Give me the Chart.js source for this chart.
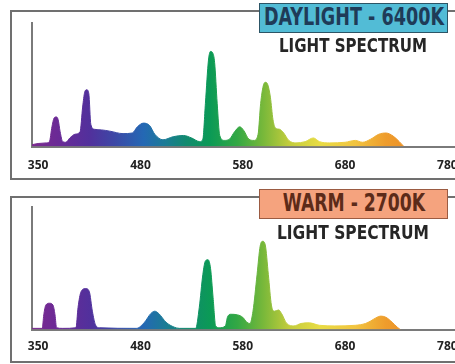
<!DOCTYPE html>
<html>
<head>
<meta charset="utf-8">
<script src="https://cdn.jsdelivr.net/npm/chart.js@4.4.1/dist/chart.umd.min.js"></script>
<style>
    html, body { margin: 0; padding: 0; background: #fff; overflow: hidden; }
    body { width: 455px; height: 364px; position: relative; }
    .frame { position: absolute; left: 10px; width: 470px; border: 2px solid #707070; box-sizing: border-box; }
    #frame-day { top: 10px; height: 170px; }
    #frame-warm { top: 196px; height: 167px; }
    canvas { position: absolute; left: 0; }
    #chart-day { top: 0; }
    #chart-warm { top: 182px; }
    .badge { position: absolute; left: 259px; width: 189px; height: 30px; box-sizing: border-box; border: 1.5px solid;
             font-family: 'DejaVu Sans Condensed', 'DejaVu Sans', sans-serif; font-weight: bold;
             font-size: 24px; line-height: 27px; white-space: nowrap; }
    #badge-day { top: 3px; background: #52bcd6; border-color: #2c5566; color: #1f3b58; }
    #badge-warm { top: 189px; background: #f5a37e; border-color: #9b5b42; color: #5c2b19; }
    .sub { position: absolute; left: 253px; width: 200px; height: 20px; white-space: nowrap;
           font-family: 'DejaVu Sans Condensed', 'DejaVu Sans', sans-serif; font-weight: bold;
           font-size: 19px; line-height: 20px; color: #262626; }
    #sub-day { top: 35px; }
    #sub-warm { top: 222px; }
    .fit { position: absolute; left: 50%; top: 0; transform-origin: 50% 50%; }
</style>
</head>
<body>
<div class="frame" id="frame-day"></div>
<div class="frame" id="frame-warm"></div>
<canvas id="chart-day" width="475" height="190"></canvas>
<canvas id="chart-warm" width="475" height="186"></canvas>
<div class="badge" id="badge-day"><span class="fit" data-w="180">DAYLIGHT - 6400K</span></div>
<div class="sub" id="sub-day"><span class="fit" data-w="148">LIGHT SPECTRUM</span></div>
<div class="badge" id="badge-warm"><span class="fit" data-w="142">WARM - 2700K</span></div>
<div class="sub" id="sub-warm"><span class="fit" data-w="152">LIGHT SPECTRUM</span></div>

<script>
// wavelength (nm) and relative intensity (%) for each lamp
const daylightNm = [ 374, 380, 388, 391, 393.5, 395.5, 397.5, 399.5, 401.5, 404, 407, 411, 416, 421, 423.5, 425.5, 427.5,
    429.5, 431.5, 435, 442, 450, 463, 472, 477, 483, 489, 494, 502, 512, 522, 530, 538, 541, 543.5, 546.5, 548.5, 550.5,
    552.5, 555, 557.5, 562, 567, 572, 577, 581, 586, 591, 595, 597.5, 600, 602, 604.5, 607, 609.5, 612, 616, 620, 625,
    632, 641, 649, 655, 665, 680, 690, 697, 705, 713, 720, 727, 733, 737 ];
const daylightLevel = [ 1.5, 2.5, 3, 4, 16, 23, 24, 22, 12, 4, 3.5, 7, 10, 12, 32, 44, 46,
    43, 18, 14, 13.5, 12.5, 10.5, 11, 16, 19, 17, 10, 5.5, 8, 9, 7, 4, 6, 35, 70, 77, 76,
    68, 35, 9, 5, 6, 12, 16, 13, 6, 5, 10, 35, 49, 52, 50, 40, 22, 15, 14, 11, 5,
    3, 4, 7, 4, 3, 3.5, 5, 3.5, 6, 10, 11, 8.5, 4, 0.5 ];

const warmNm = [ 374, 384, 385.5, 387.5, 391, 394.5, 396.5, 398, 404, 417, 419, 422, 426.5, 430, 433, 436, 440, 476,
    484, 490, 494, 498, 505, 513, 518, 534, 537.5, 541, 543.5, 546, 548.5, 551, 553.5, 557, 563, 565, 568, 575, 580,
    584, 587, 590, 594, 597, 599.5, 602, 605, 608, 611, 615, 618, 623, 630, 637, 645, 655, 670, 690, 700, 705, 710, 715,
    720, 726, 731, 734 ];
const warmLevel = [ 1, 1, 12, 20, 21.5, 20, 12, 1.5, 1, 1.5, 18, 31, 33.5, 31, 15, 4, 1.5, 1,
    6, 13, 15, 13, 6, 2, 1, 1, 18, 45, 56, 57, 50, 26, 3, 1.5, 3, 10, 12.5, 12, 10,
    6, 5, 15, 45, 68, 72, 69, 45, 20, 15, 16, 13, 5, 3, 5, 5.5, 3.5, 3, 3.5, 5, 7, 9.5, 11,
    10, 6, 2, 0 ];

const tickNm = [ 380, 480, 580, 680, 780 ];
const tickLabels = [ '350', '480', '580', '680', '780' ];

// colour of the fill along the wavelength axis
const hueStops = [
    [ 374, '#7b2a8f' ], [ 400, '#6a2a96' ], [ 430, '#52309c' ], [ 455, '#3c48a6' ], [ 483, '#2468b4' ],
    [ 505, '#1a7c94' ], [ 525, '#118a6e' ], [ 548, '#0b9a56' ], [ 575, '#34a844' ], [ 600, '#78b83a' ],
    [ 625, '#c2cc3c' ], [ 655, '#e8dc44' ], [ 690, '#f2c440' ], [ 720, '#ee9c2c' ], [ 740, '#ec9228' ]
];

function spectrumFill( context )
{
    const chart = context.chart;
    const area = chart.chartArea;
    if ( !area ) return 'rgba(0,0,0,0)';
    const x = chart.scales.x;
    const g = chart.ctx.createLinearGradient( area.left, 0, area.right, 0 );
    hueStops.forEach( function ( s )
    {
        const t = ( x.getPixelForValue( s[ 0 ] ) - area.left ) / ( area.right - area.left );
        g.addColorStop( Math.min( 1, Math.max( 0, t ) ), s[ 1 ] );
    } );
    return g;
}

function drawSpectrum( id, nm, level, pad, labelGap )
{
    new Chart( document.getElementById( id ), {
        type: 'line',
        data: {
            datasets: [ {
                data: nm.map( ( v, i ) => ( { x: v, y: level[ i ] } ) ),
                fill: 'origin',
                backgroundColor: spectrumFill,
                borderColor: spectrumFill,
                borderWidth: 1,
                pointRadius: 0,
                cubicInterpolationMode: 'monotone'
            } ]
        },
        options: {
            responsive: false,
            animation: false,
            events: [],
            layout: { padding: pad },
            plugins: { legend: { display: false }, tooltip: { enabled: false } },
            scales: {
                x: {
                    type: 'linear',
                    min: 374,
                    max: 807,
                    grid: { display: false, drawTicks: false },
                    border: { color: '#7a7a7a', width: 2 },
                    afterBuildTicks: function ( axis )
                    {
                        axis.ticks = tickNm.map( v => ( { value: v } ) );
                    },
                    ticks: {
                        padding: labelGap,
                        color: '#222',
                        autoSkip: false,
                        maxRotation: 0,
                        font: { family: 'Open Sans', weight: 'bold', size: 12 },
                        callback: ( value, index ) => tickLabels[ index ]
                    }
                },
                y: {
                    min: 0,
                    max: 100,
                    grid: { display: false, drawTicks: false },
                    ticks: { display: false },
                    border: { color: '#7a7a7a', width: 2 }
                }
            }
        }
    } );
}

drawSpectrum( 'chart-day', daylightNm, daylightLevel, { left: 32, top: 23, right: 0, bottom: 5 }, 12 );
drawSpectrum( 'chart-warm', warmNm, warmLevel, { left: 32, top: 25, right: 0, bottom: 4 }, 10 );

// squeeze the heading texts to their box width, centred in the box
document.querySelectorAll( '.fit' ).forEach( function ( el )
{
    const k = Number( el.dataset.w ) / el.offsetWidth;
    el.style.transform = 'translateX(-50%) scaleX(' + k + ')';
} );
</script>
</body>
</html>
